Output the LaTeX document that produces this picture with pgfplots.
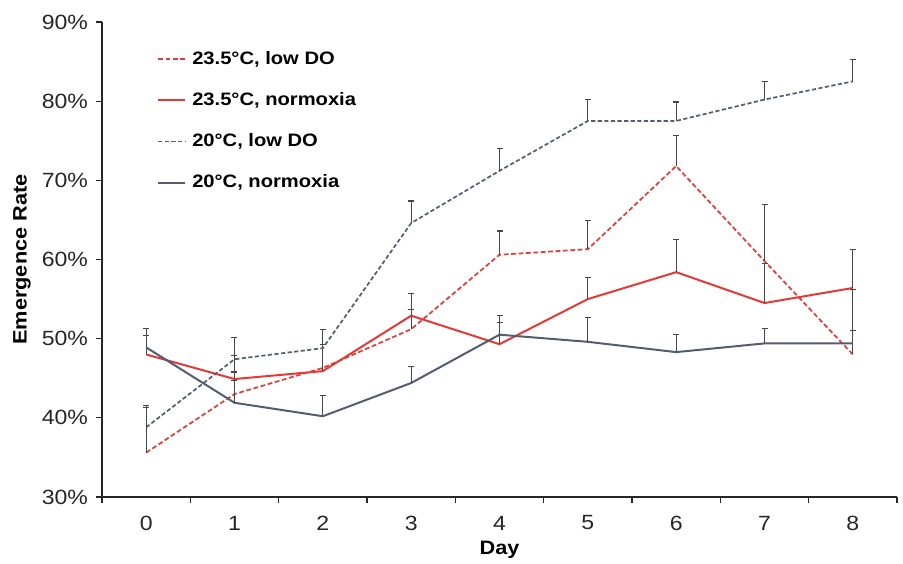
\documentclass[border=0pt]{standalone}
\usepackage{fontspec}
\setmainfont[FakeStretch=1.12]{Liberation Sans}
\usepackage{pgfplots}
\pgfplotsset{compat=1.18}

\definecolor{redline}{RGB}{230,56,52}
\definecolor{slate}{RGB}{82,93,112}
\definecolor{errgray}{RGB}{70,70,70}

% day, value (%), upper error
\pgfplotstableread{
x y e
0 35.6 6.0
1 43.0 2.8
2 46.3 3.0
3 51.2 2.5
4 60.6 3.0
5 61.3 3.6
6 71.8 3.9
7 59.8 7.1
8 48.0 8.2
}\redlow
\pgfplotstableread{
x y e
0 48.0 2.4
1 44.9 3.0
2 45.9 3.4
3 52.9 2.8
4 49.3 2.7
5 55.0 2.7
6 58.4 4.1
7 54.5 5.0
8 56.4 4.9
}\rednorm
\pgfplotstableread{
x y e
0 38.8 2.5
1 47.4 2.7
2 48.8 2.4
3 64.6 2.8
4 71.2 2.8
5 77.5 2.7
6 77.5 2.4
7 80.2 2.3
8 82.5 2.8
}\graylow
\pgfplotstableread{
x y e
0 48.9 2.4
1 41.9 2.8
2 40.2 2.6
3 44.4 2.1
4 50.5 2.4
5 49.6 3.1
6 48.3 2.2
7 49.4 1.9
8 49.4 1.6
}\graynorm

\begin{document}
\begin{tikzpicture}
\begin{axis}[
    name=main,
    scale only axis,
    width=397.5pt, height=237.5pt,
    xmin=-0.5, xmax=8.5,
    ymin=30, ymax=90,
    axis lines*=left,
    axis line style={line width=0.7pt, black!85},
    xtick={0,...,8},
    major x tick style={draw=none},
    minor xtick={-0.5,0.5,...,8.5},
    minor tick length=3pt,
    minor x tick style={line width=0.6pt, black!85},
    ytick={30,40,...,90},
    yticklabels={30\%,40\%,50\%,60\%,70\%,80\%,90\%},
    major tick length=3pt,
    y tick style={line width=0.6pt, black!85},
    tick align=outside,
    /pgf/number format/assume math mode=true,
    tick label style={font=\fontsize{10.3}{12}\selectfont, text=black!85},
    xticklabel style={anchor=center, yshift=-10pt},
    yticklabel style={xshift=-0.5pt},
    xlabel={\textbf{Day}},
    ylabel={\textbf{Emergence Rate}},
    label style={font=\fontsize{9.7}{11}\selectfont},
    xlabel style={at={(axis description cs:0.5,-0.1116)}, anchor=center},
    ylabel style={at={(axis description cs:-0.1006,0.5)}, anchor=center},
    legend style={draw=none, fill=none, at={(rel axis cs:0.069,0.948)}, anchor=north west,
        font=\bfseries\fontsize{9}{11}\selectfont, row sep=8.6pt, inner sep=0pt,
        nodes={inner xsep=3pt}},
    legend cell align=left,
    legend image code/.code={\draw[#1] (0pt,0pt) -- (13.5pt,0pt);},
    clip=false,
    error bars/y dir=plus,
    error bars/y explicit,
    error bars/error bar style={solid, line width=0.6pt, errgray},
    error bars/error mark options={solid, rotate=90, mark size=1.5pt, line width=0.6pt, errgray},
]
\addplot[redline, line width=0.85pt, dash pattern=on 2.4pt off 1.3pt, mark=none]
    table[x=x, y=y, y error=e] {\redlow};
\addlegendentry{23.5°C, low DO}
\addplot[redline, line width=1pt, mark=none]
    table[x=x, y=y, y error=e] {\rednorm};
\addlegendentry{23.5°C, normoxia}
\addplot[slate, line width=0.85pt, dash pattern=on 2.1pt off 1.2pt, mark=none]
    table[x=x, y=y, y error=e] {\graylow};
\addlegendentry{20°C, low DO}
\addplot[slate, line width=1pt, mark=none]
    table[x=x, y=y, y error=e] {\graynorm};
\addlegendentry{20°C, normoxia}
\end{axis}
\pgfresetboundingbox
\path ([shift={(-51pt,-33.5pt)}]main.south west) rectangle ([shift={(3pt,11pt)}]main.north east);
\end{tikzpicture}
\end{document}
